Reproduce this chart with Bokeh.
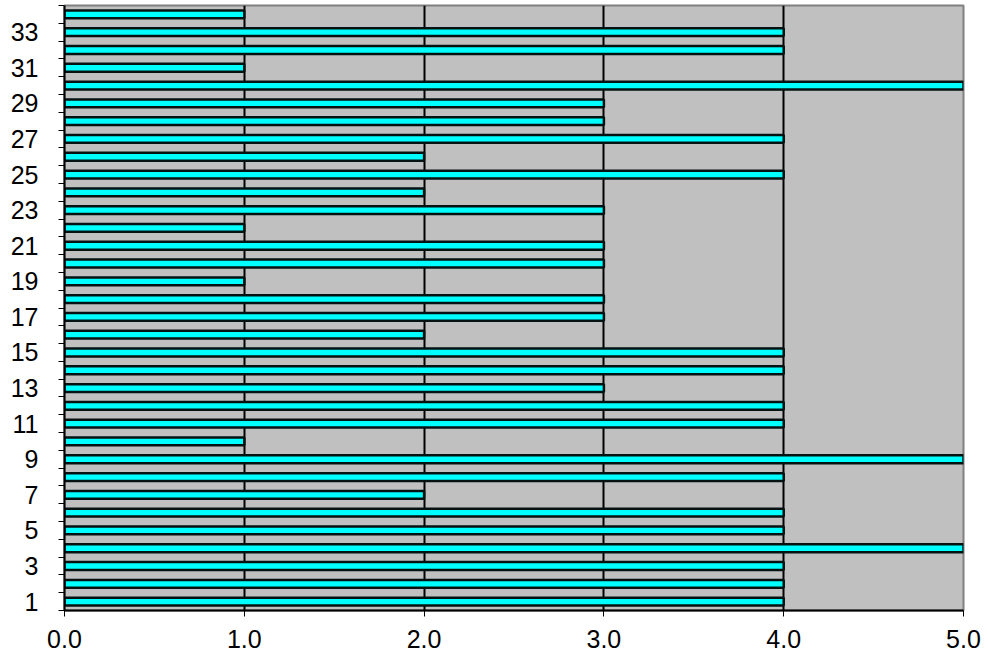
from bokeh.plotting import figure
from bokeh.models import FixedTicker, NumeralTickFormatter, Range1d, ColumnDataSource
from bokeh.embed import file_html
from bokeh.resources import INLINE

categories = list(range(1, 35))
values = [4, 4, 4, 5, 4, 4, 2, 4, 5, 1,
          4, 4, 3, 4, 4, 2, 3, 3, 1, 3,
          3, 1, 3, 2, 4, 2, 4, 3, 3, 5,
          1, 4, 4, 1]
y_tick_labels = list(range(1, 35, 2))
x_ticks = [0, 1, 2, 3, 4, 5]

src = ColumnDataSource(dict(cat=categories, val=values))

p = figure(width=988, height=661, output_backend="svg", toolbar_location=None,
           x_range=Range1d(0, 5), y_range=Range1d(0.5, 34.5),
           min_border_left=64, min_border_right=25, min_border_top=5,
           min_border_bottom=51)
p.background_fill_color = "#C0C0C0"
p.border_fill_color = "white"
p.outline_line_color = "#808080"
p.outline_line_width = 2

p.hbar(y="cat", right="val", left=0, height=0.44, source=src,
       fill_color="#00FFFF", line_color="#061212", line_width=2.5)

p.xgrid.grid_line_color = "black"
p.xgrid.grid_line_width = 2
p.ygrid.grid_line_color = None

p.xaxis.ticker = FixedTicker(ticks=x_ticks)
p.xaxis.formatter = NumeralTickFormatter(format="0.0")
p.yaxis.ticker = FixedTicker(ticks=y_tick_labels,
                             minor_ticks=[c - 0.5 for c in categories] + [34.5])

for ax in (p.xaxis[0], p.yaxis[0]):
    ax.major_label_text_font = "Liberation Sans"
    ax.major_label_text_font_size = "25px"
    ax.major_label_text_color = "black"
    ax.axis_line_color = "black"
    ax.axis_line_width = 2

p.xaxis.major_tick_out = 6
p.xaxis.major_tick_in = 0
p.xaxis.major_tick_line_color = "black"
p.xaxis.minor_tick_line_color = None
p.xaxis.major_label_standoff = 13

p.yaxis.major_tick_out = 0
p.yaxis.major_tick_in = 0
p.yaxis.major_tick_line_color = None
p.yaxis.minor_tick_out = 6
p.yaxis.minor_tick_in = 0
p.yaxis.minor_tick_line_color = "black"
p.yaxis.major_label_standoff = 20

open("out.html", "w").write(file_html(p, INLINE))
